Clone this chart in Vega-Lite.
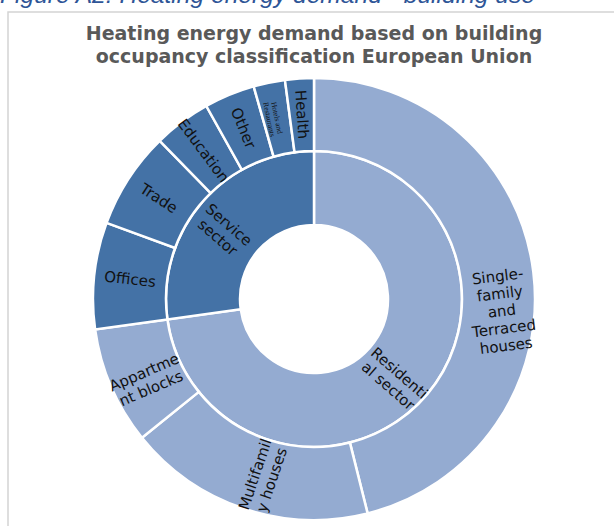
{
  "$schema": "https://vega.github.io/schema/vega-lite/v6.json",
  "padding": {"left": 0, "top": -18, "right": -6, "bottom": -61},
  "background": "white",
  "title": {
    "text": "Figure A2: Heating energy demand - building use",
    "anchor": "start",
    "frame": "group",
    "dx": -8,
    "offset": -16,
    "baseline": "alphabetic",
    "font": "Liberation Sans",
    "fontStyle": "italic",
    "fontWeight": "normal",
    "fontSize": 24.6,
    "color": "#2e5597"
  },
  "config": {"view": {"stroke": "#d4d4d4", "strokeWidth": 1.5}},
  "vconcat": [
    {
      "width": 612,
      "height": 574,
      "view": {"stroke": "#d4d4d4", "strokeWidth": 1.5},
      "title": {
        "text": ["Heating energy demand based on building", "occupancy classification European Union"],
        "anchor": "middle",
        "frame": "group",
        "offset": -55,
        "baseline": "top",
        "font": "DejaVu Sans",
        "fontSize": 19,
        "fontWeight": "bold",
        "color": "#595959",
        "lineHeight": 23
      },
      "data": {
        "values": [
          {"ring": "inner", "sector": "Residential", "label": "Residenti\nal sector", "value": 72.8},
          {"ring": "inner", "sector": "Service", "label": "Service\nsector", "value": 27.2},
          {"ring": "outer", "sector": "Residential", "label": "Single-\nfamily\nand\nTerraced\nhouses", "value": 46.1},
          {"ring": "outer", "sector": "Residential", "label": "Multifamil\ny houses", "value": 18.1},
          {"ring": "outer", "sector": "Residential", "label": "Appartme\nnt blocks", "value": 8.6},
          {"ring": "outer", "sector": "Service", "label": "Offices", "value": 7.8},
          {"ring": "outer", "sector": "Service", "label": "Trade", "value": 7.1},
          {"ring": "outer", "sector": "Service", "label": "Education", "value": 4.2},
          {"ring": "outer", "sector": "Service", "label": "Other", "value": 3.7},
          {"ring": "outer", "sector": "Service", "label": "Hotels and\nRestaurants", "value": 2.3},
          {"ring": "outer", "sector": "Service", "label": "Health", "value": 2.1}
        ]
      },
      "transform": [
        {"window": [{"op": "sum", "field": "value", "as": "cum"}], "groupby": ["ring"], "frame": [null, 0]},
        {"calculate": "datum.cum - datum.value", "as": "start"},
        {"calculate": "datum.cum - datum.value / 2", "as": "mid"},
        {"calculate": "datum.mid * 3.6 < 180 ? datum.mid * 3.6 - 90 : datum.mid * 3.6 - 270", "as": "ang"}
      ],
      "layer": [
        {
          "transform": [{"filter": "datum.ring === 'inner'"}],
          "mark": {"type": "arc", "radius": 148, "radius2": 74, "stroke": "white", "strokeWidth": 2.5},
          "encoding": {
            "theta": {"field": "start", "type": "quantitative", "scale": {"domain": [0, 100], "range": [0, 6.283185307]}, "stack": null},
            "theta2": {"field": "cum"},
            "color": {"field": "sector", "type": "nominal", "scale": {"domain": ["Residential", "Service"], "range": ["#94abd1", "#4472a6"]}, "legend": null}
          }
        },
        {
          "transform": [{"filter": "datum.ring === 'outer'"}],
          "mark": {"type": "arc", "radius": 221, "radius2": 148, "stroke": "white", "strokeWidth": 2.5},
          "encoding": {
            "theta": {"field": "start", "type": "quantitative", "stack": null},
            "theta2": {"field": "cum"},
            "color": {"field": "sector", "type": "nominal", "legend": null}
          }
        },
        {
          "transform": [{"filter": "datum.ring === 'inner'"}],
          "mark": {"type": "text", "radius": 113, "font": "DejaVu Sans", "fontSize": 15, "color": "#111111", "lineBreak": "\n", "lineHeight": 17, "align": "center", "baseline": "middle"},
          "encoding": {
            "theta": {"field": "mid", "type": "quantitative", "stack": null},
            "text": {"field": "label"},
            "angle": {"field": "ang", "type": "quantitative", "scale": null}
          }
        },
        {
          "transform": [{"filter": "datum.ring === 'outer' && indexof(datum.label, 'Hotels') < 0"}],
          "mark": {"type": "text", "radius": 185, "font": "DejaVu Sans", "fontSize": 15, "color": "#111111", "lineBreak": "\n", "lineHeight": 17.5, "align": "center", "baseline": "middle"},
          "encoding": {
            "theta": {"field": "mid", "type": "quantitative", "stack": null},
            "text": {"field": "label"},
            "angle": {"field": "ang", "type": "quantitative", "scale": null}
          }
        },
        {
          "transform": [{"filter": "indexof(datum.label, 'Hotels') >= 0"}],
          "mark": {"type": "text", "radius": 185, "font": "Liberation Serif", "fontSize": 7.5, "color": "#111111", "lineBreak": "\n", "lineHeight": 8, "align": "center", "baseline": "middle"},
          "encoding": {
            "theta": {"field": "mid", "type": "quantitative", "stack": null},
            "text": {"field": "label"},
            "angle": {"field": "ang", "type": "quantitative", "scale": null}
          }
        }
      ]
    }
  ]
}
